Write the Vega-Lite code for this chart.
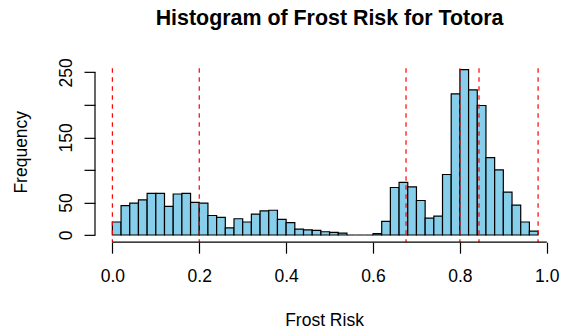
{
  "$schema": "https://vega.github.io/schema/vega-lite/v6.json",
  "autosize": {"type": "none"},
  "width": 469.15,
  "height": 178.32,
  "padding": {"left": 95, "top": 63.84, "right": 0.85, "bottom": 90.84},
  "background": "white",
  "title": {
    "text": "Histogram of Frost Risk for Totora",
    "fontSize": 21.4,
    "fontWeight": "bold",
    "color": "black",
    "anchor": "middle",
    "frame": "group",
    "baseline": "alphabetic",
    "offset": 11
  },
  "config": {
    "font": "Liberation Sans",
    "view": {"stroke": null},
    "axis": {
      "domain": false,
      "grid": false,
      "tickSize": 11,
      "tickColor": "black",
      "tickWidth": 1.2,
      "labelFontSize": 17.5,
      "labelColor": "black",
      "labelFlush": false,
      "labelOverlap": false,
      "titleFontSize": 17.5,
      "titleFontWeight": "normal",
      "titleColor": "black"
    }
  },
  "resolve": {"axis": {"x": "independent", "y": "independent"}},
  "datasets": {
    "bins": [
      {"lo": 0.00, "hi": 0.02, "n": 20},
      {"lo": 0.02, "hi": 0.04, "n": 45},
      {"lo": 0.04, "hi": 0.06, "n": 49},
      {"lo": 0.06, "hi": 0.08, "n": 54},
      {"lo": 0.08, "hi": 0.10, "n": 64},
      {"lo": 0.10, "hi": 0.12, "n": 64},
      {"lo": 0.12, "hi": 0.14, "n": 44},
      {"lo": 0.14, "hi": 0.16, "n": 63},
      {"lo": 0.16, "hi": 0.18, "n": 64},
      {"lo": 0.18, "hi": 0.20, "n": 50},
      {"lo": 0.20, "hi": 0.22, "n": 49},
      {"lo": 0.22, "hi": 0.24, "n": 30},
      {"lo": 0.24, "hi": 0.26, "n": 27},
      {"lo": 0.26, "hi": 0.28, "n": 11},
      {"lo": 0.28, "hi": 0.30, "n": 25},
      {"lo": 0.30, "hi": 0.32, "n": 20},
      {"lo": 0.32, "hi": 0.34, "n": 32},
      {"lo": 0.34, "hi": 0.36, "n": 37},
      {"lo": 0.36, "hi": 0.38, "n": 38},
      {"lo": 0.38, "hi": 0.40, "n": 24},
      {"lo": 0.40, "hi": 0.42, "n": 19},
      {"lo": 0.42, "hi": 0.44, "n": 9},
      {"lo": 0.44, "hi": 0.46, "n": 8},
      {"lo": 0.46, "hi": 0.48, "n": 7},
      {"lo": 0.48, "hi": 0.50, "n": 5},
      {"lo": 0.50, "hi": 0.52, "n": 4},
      {"lo": 0.52, "hi": 0.54, "n": 3},
      {"lo": 0.54, "hi": 0.56, "n": 0},
      {"lo": 0.56, "hi": 0.58, "n": 0},
      {"lo": 0.58, "hi": 0.60, "n": 0},
      {"lo": 0.60, "hi": 0.62, "n": 2},
      {"lo": 0.62, "hi": 0.64, "n": 21},
      {"lo": 0.64, "hi": 0.66, "n": 73},
      {"lo": 0.66, "hi": 0.68, "n": 81},
      {"lo": 0.68, "hi": 0.70, "n": 74},
      {"lo": 0.70, "hi": 0.72, "n": 53},
      {"lo": 0.72, "hi": 0.74, "n": 26},
      {"lo": 0.74, "hi": 0.76, "n": 29},
      {"lo": 0.76, "hi": 0.78, "n": 93},
      {"lo": 0.78, "hi": 0.80, "n": 217},
      {"lo": 0.80, "hi": 0.82, "n": 254},
      {"lo": 0.82, "hi": 0.84, "n": 223},
      {"lo": 0.84, "hi": 0.86, "n": 199},
      {"lo": 0.86, "hi": 0.88, "n": 119},
      {"lo": 0.88, "hi": 0.90, "n": 100},
      {"lo": 0.90, "hi": 0.92, "n": 66},
      {"lo": 0.92, "hi": 0.94, "n": 46},
      {"lo": 0.94, "hi": 0.96, "n": 20},
      {"lo": 0.96, "hi": 0.98, "n": 6}
    ],
    "cutoffs": [
      {"risk": 0.0},
      {"risk": 0.2},
      {"risk": 0.676},
      {"risk": 0.8},
      {"risk": 0.844},
      {"risk": 0.98}
    ]
  },
  "layer": [
    {
      "data": {"name": "bins"},
      "mark": {"type": "bar", "fill": "#87CEEB", "stroke": "black", "strokeWidth": 1.2},
      "encoding": {
        "x": {
          "field": "lo",
          "type": "quantitative",
          "scale": {"domain": [-0.04, 1.04], "nice": false, "zero": false},
          "axis": {
            "values": [0, 0.2, 0.4, 0.6, 0.8, 1.0],
            "format": ".1f",
            "labelBaseline": "alphabetic",
            "labelPadding": 28.3,
            "title": "Frost Risk",
            "titleX": 229,
            "titleY": 83,
            "titleAlign": "center",
            "titleBaseline": "alphabetic"
          }
        },
        "x2": {"field": "hi"},
        "y": {
          "field": "n",
          "type": "quantitative",
          "scale": {"domain": [-11, 263], "nice": false, "zero": false},
          "axis": {
            "values": [0, 50, 100, 150, 200, 250],
            "labelExpr": "datum.value == 100 || datum.value == 200 ? '' : datum.label",
            "labelAngle": 270,
            "labelAlign": "center",
            "labelBaseline": "alphabetic",
            "labelPadding": 12.3,
            "title": "Frequency",
            "titleAngle": 270,
            "titleX": -69,
            "titleY": 87.9,
            "titleAlign": "center",
            "titleBaseline": "alphabetic"
          }
        },
        "y2": {"datum": 0}
      }
    },
    {
      "data": {"name": "cutoffs"},
      "mark": {"type": "rule", "color": "#FF0000", "strokeWidth": 1.2, "strokeDash": [4.5, 4.5], "strokeDashOffset": 4.5},
      "encoding": {
        "x": {"field": "risk", "type": "quantitative", "axis": null}
      }
    },
    {
      "data": {"values": [{}]},
      "mark": {"type": "rule", "color": "black", "strokeWidth": 1.2},
      "encoding": {
        "x": {"datum": 0, "axis": null},
        "x2": {"datum": 1},
        "y": {"datum": -11, "axis": null}
      }
    },
    {
      "data": {"values": [{}]},
      "mark": {"type": "rule", "color": "black", "strokeWidth": 1.2},
      "encoding": {
        "x": {"datum": -0.04, "axis": null},
        "y": {"datum": 0, "axis": null},
        "y2": {"datum": 250}
      }
    }
  ]
}
